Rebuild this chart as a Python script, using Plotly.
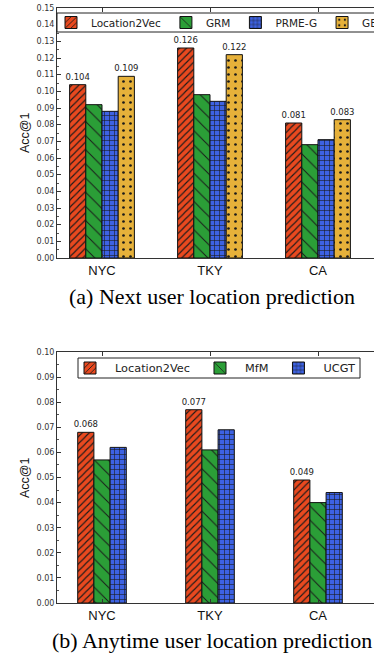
import plotly.graph_objects as go

# ---------------- data ----------------
categories = ["NYC", "TKY", "CA"]

# (a) Next user location prediction
series_a = ["Location2Vec", "GRM", "PRME-G", "GE"]
a_location2vec = [0.104, 0.126, 0.081]
a_grm = [0.092, 0.098, 0.068]
a_prme_g = [0.088, 0.094, 0.071]
a_ge = [0.109, 0.122, 0.083]

# (b) Anytime user location prediction
series_b = ["Location2Vec", "MfM", "UCGT"]
b_location2vec = [0.068, 0.077, 0.049]
b_mfm = [0.057, 0.061, 0.040]
b_ucgt = [0.062, 0.069, 0.044]

ticks_a = [0.00, 0.01, 0.02, 0.03, 0.04, 0.05, 0.06, 0.07, 0.08, 0.09,
           0.10, 0.11, 0.12, 0.13, 0.14, 0.15]
ticks_b = [0.00, 0.01, 0.02, 0.03, 0.04, 0.05, 0.06, 0.07, 0.08, 0.09, 0.10]

caption_a = "(a) Next user location prediction"
caption_b = "(b) Anytime user location prediction"
y_title = "Acc@1"

# ---------------- style ----------------
W, H = 374, 655
RED, GREEN, BLUE, GOLD = "#e9491f", "#2b9e37", "#3d62e3", "#e6b13a"
styles = {
    "Location2Vec": dict(color=RED, shape="/", size=5, solidity=0.22),
    "GRM": dict(color=GREEN, shape="\\", size=10, solidity=0.1),
    "PRME-G": dict(color=BLUE, shape="+", size=5, solidity=0.22),
    "GE": dict(color=GOLD, shape=".", size=7, solidity=0.12),
    "MfM": dict(color=GREEN, shape="\\", size=10, solidity=0.1),
    "UCGT": dict(color=BLUE, shape="+", size=5, solidity=0.22),
}
BW = 0.15
TICK_FONT = dict(family="DejaVu Sans", size=8, color="#333333")
VAL_FONT = dict(family="DejaVu Sans", size=8.5, color="#222222")

fig = go.Figure()


def add_group(names, values, labelled, xa, ya, legend):
    n = len(names)
    for i, (name, vals) in enumerate(zip(names, values)):
        st = styles[name]
        fig.add_trace(go.Bar(
            x=categories, y=vals, name=name,
            width=BW, offset=-n * BW / 2 + i * BW,
            marker=dict(color=st["color"],
                        line=dict(color="#111111", width=1),
                        pattern=dict(shape=st["shape"], fgcolor="#1a1a1a",
                                     bgcolor=st["color"],
                                     size=st["size"], solidity=st["solidity"],
                                     fillmode="replace")),
            text=[f"{v:.3f}" for v in vals] if name in labelled else None,
            textposition="outside", textfont=VAL_FONT,
            constraintext="none", cliponaxis=False, hoverinfo="skip",
            xaxis=xa, yaxis=ya, legend=legend, showlegend=True,
        ))


add_group(series_a, [a_location2vec, a_grm, a_prme_g, a_ge],
          {"Location2Vec", "GE"}, "x", "y", "legend")
add_group(series_b, [b_location2vec, b_mfm, b_ucgt],
          {"Location2Vec"}, "x2", "y2", "legend2")

# geometry (pixels)
left_px = 57
c0_px, unit_px = 102, 108
x_range = [(left_px - c0_px) / unit_px, (W - c0_px) / unit_px]


def ydom(top_px, bot_px):
    return [1 - bot_px / H, 1 - top_px / H]


def py(px):
    return 1 - px / H


xcommon = dict(
    type="category", range=x_range, domain=[left_px / W, 1],
    showline=True, linecolor="#333333", linewidth=1, mirror="ticks",
    ticks="inside", ticklen=4, tickcolor="#333333", automargin=False,
    tickfont=dict(family="Liberation Sans", size=13, color="#111111"),
    showgrid=False, zeroline=False, fixedrange=True,
)
ycommon = dict(
    showline=True, linecolor="#333333", linewidth=1, mirror=False,
    ticks="inside", ticklen=4, tickcolor="#333333", tickformat=".2f",
    tickfont=TICK_FONT, showgrid=False, zeroline=False, automargin=False,
    fixedrange=True,
    minor=dict(ticks="inside", ticklen=2, dtick=0.005, tickcolor="#555555"),
)

legend_common = dict(
    orientation="h", xanchor="left", yanchor="middle",
    bgcolor="rgba(0,0,0,0)", borderwidth=0,
    itemclick=False, itemdoubleclick=False,
)

fig.update_layout(
    width=W, height=H, margin=dict(l=0, r=0, t=0, b=0, autoexpand=False),
    paper_bgcolor="white", plot_bgcolor="white",
    barmode="overlay", hovermode=False,
    xaxis=dict(**xcommon, anchor="y"),
    yaxis=dict(**ycommon, anchor="x", domain=ydom(8, 258),
               range=[0, 0.15], tickvals=ticks_a),
    xaxis2=dict(**xcommon, anchor="y2"),
    yaxis2=dict(**ycommon, anchor="x2", domain=ydom(352, 603),
                range=[0, 0.10], tickvals=ticks_b),
    legend=dict(**legend_common, x=51 / W, y=py(22.5),
                font=dict(family="DejaVu Sans", size=10.5, color="#222222")),
    legend2=dict(**legend_common, x=65 / W, y=py(368), itemwidth=40,
                 font=dict(family="DejaVu Sans", size=11.3, color="#222222")),
    shapes=[
        dict(type="rect", xref="paper", yref="paper",
             x0=57 / W, x1=1.05, y0=py(32), y1=py(13),
             fillcolor="white", line=dict(color="#222222", width=1),
             layer="above"),
        dict(type="rect", xref="paper", yref="paper",
             x0=78 / W, x1=360 / W, y0=py(378), y1=py(358),
             fillcolor="white", line=dict(color="#222222", width=1),
             layer="above"),
    ],
    annotations=[
        dict(text=y_title, xref="paper", yref="paper", x=25 / W,
             y=py(133), textangle=-90, showarrow=False,
             xanchor="center", yanchor="middle",
             font=dict(family="Liberation Sans", size=12.5, color="#111111")),
        dict(text=y_title, xref="paper", yref="paper", x=25 / W,
             y=py(478), textangle=-90, showarrow=False,
             xanchor="center", yanchor="middle",
             font=dict(family="Liberation Sans", size=12.5, color="#111111")),
        dict(text=caption_a, xref="paper", yref="paper", x=212 / W,
             y=py(296), showarrow=False, xanchor="center", yanchor="middle",
             font=dict(family="Liberation Serif", size=22, color="#000000")),
        dict(text=caption_b, xref="paper", yref="paper", x=212 / W,
             y=py(640), showarrow=False, xanchor="center", yanchor="middle",
             font=dict(family="Liberation Serif", size=22, color="#000000")),
    ],
)

fig.write_html(
    "out.html",
    config={"displayModeBar": False, "staticPlot": False},
    post_script="document.body.style.margin='0';"
                "document.body.style.overflow='hidden';",
)
